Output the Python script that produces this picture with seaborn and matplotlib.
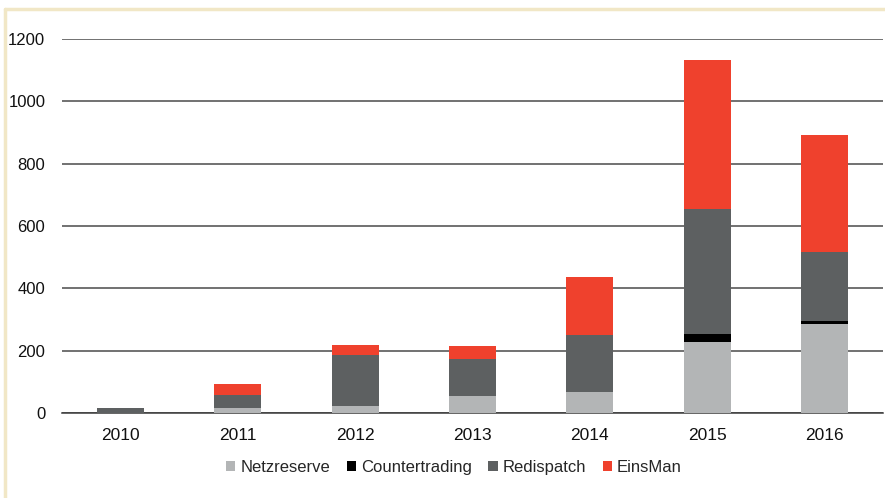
import numpy as np
import pandas as pd
import matplotlib
matplotlib.use('Agg')
import matplotlib.pyplot as plt
from matplotlib.patches import Patch
from matplotlib.lines import Line2D
import seaborn as sns

years = ['2010', '2011', '2012', '2013', '2014', '2015', '2016']
netzreserve = [0, 17, 24, 55, 67, 229, 285]
countertrading = [0, 0, 0, 0, 1, 23, 11]
redispatch = [15, 41, 162, 117, 183, 403, 221]
einsman = [0, 35, 31, 43, 184, 477, 375]

series_names = ['Netzreserve', 'Countertrading', 'Redispatch', 'EinsMan']
colors = ['#b3b5b6', '#000000', '#5d6061', '#ef412d']

df = pd.DataFrame({'Jahr': years, 'Netzreserve': netzreserve, 'Countertrading': countertrading,
                   'Redispatch': redispatch, 'EinsMan': einsman})
# cumulative heights for the overlay-style stacking
cum = df[series_names].cumsum(axis=1)

sns.set_style('white')
plt.rcParams['font.family'] = ['Liberation Sans', 'DejaVu Sans']

fig = plt.figure(figsize=(8.85, 4.98), dpi=100)
ax = fig.add_axes([0.070, 0.1707, 0.928, 0.7510])

# draw tallest first so lower segments sit on top
for name, col in reversed(list(zip(series_names, colors))):
    sns.barplot(x=df['Jahr'], y=cum[name], color=col, width=0.4, ax=ax,
                saturation=1, linewidth=0, zorder=3)

ax.set_ylim(0, 1200)
ax.set_xlim(-0.5, len(years) - 0.5)
ax.set_yticks(range(0, 1201, 200))
ax.yaxis.grid(True, color='#4a4a4a', linewidth=1.1, zorder=0)
ax.set_axisbelow(True)
ax.set_xlabel('')
ax.set_ylabel('')

for s in ['left', 'right', 'top']:
    ax.spines[s].set_visible(False)
ax.spines['bottom'].set_color('#3a3a3a')
ax.spines['bottom'].set_linewidth(1.1)

ax.tick_params(axis='y', length=0, pad=12, labelsize=12, labelcolor='#111111')
ax.tick_params(axis='x', which='major', length=0, pad=11, labelsize=12.5, labelcolor='#111111')
ax.set_xticks(np.arange(-0.5, len(years)), minor=True)
ax.tick_params(axis='x', which='minor', length=4, width=1.1, color='#3a3a3a', direction='out')

handles = [Patch(facecolor=c, edgecolor='none', label=n) for n, c in zip(series_names, colors)]
fig.legend(handles=handles, loc='center', bbox_to_anchor=(0.513, 0.062), ncol=4, frameon=False,
           fontsize=12, handlelength=0.55, handleheight=0.55, handletextpad=0.3, columnspacing=1.0)

# light yellow frame on the left and top
frame_col = '#f1e7c6'
fig.add_artist(Line2D([0.0051, 0.0051], [0.0, 0.982], transform=fig.transFigure, color=frame_col, linewidth=2.5))
fig.add_artist(Line2D([0.0051, 1.0], [0.981, 0.981], transform=fig.transFigure, color=frame_col, linewidth=2.5))

fig.savefig('out.png', dpi=100)
